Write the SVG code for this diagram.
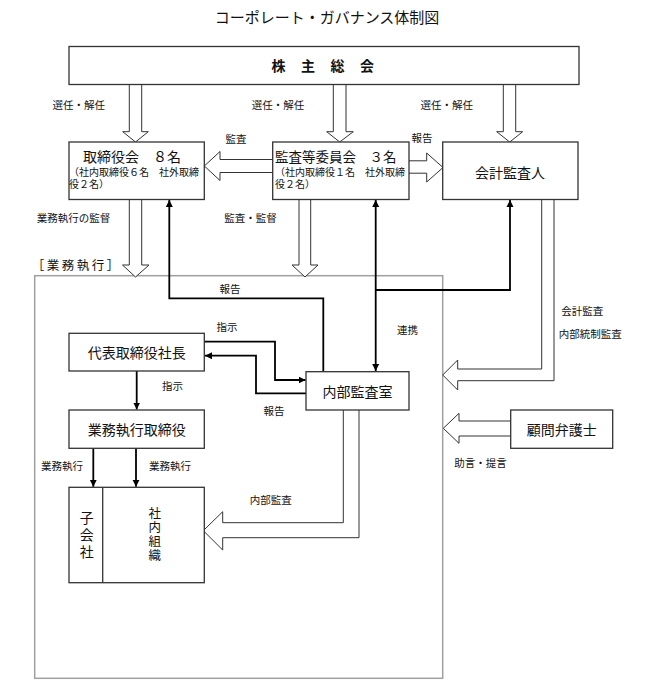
<svg xmlns="http://www.w3.org/2000/svg" width="647" height="698" viewBox="0 0 647 698">
<style>
text{font-family:"Liberation Sans","Noto Sans CJK JP",sans-serif;fill:#111;dominant-baseline:central}
.box{fill:#fff;stroke:#333;stroke-width:1.3}
.blk{fill:#fff;stroke:#333;stroke-width:1}
.ln{fill:none;stroke:#000;stroke-width:1.8}
.frame{fill:none;stroke:#a0a0a0;stroke-width:1.5}
.t14{font-size:14px}
.t10{font-size:10px}
.lb{font-size:10.5px;text-anchor:middle}
.mid{text-anchor:middle}
.vt{writing-mode:vertical-rl;text-orientation:upright}
</style>
<defs>
<marker id="ah" markerWidth="8" markerHeight="8" refX="7" refY="4" orient="auto" markerUnits="userSpaceOnUse">
<path d="M0,0.5 L7,4 L0,7.5 Z" fill="#000"/>
</marker>
<marker id="as" markerWidth="8" markerHeight="8" refX="1" refY="4" orient="auto" markerUnits="userSpaceOnUse">
<path d="M8,0.5 L1,4 L8,7.5 Z" fill="#000"/>
</marker>
</defs>
<rect width="647" height="698" fill="#fff"/>
<text x="327" y="17" class="mid" style="font-size:15px">コーポレート・ガバナンス体制図</text>

<g id="frame-execution">
<rect class="frame" x="34.7" y="275.7" width="408" height="402.6"/>
<text x="31.7" y="266" style="font-size:12.5px;letter-spacing:2.5px">［業務執行］</text>
</g>

<g id="connectors">
<!-- block arrows from shareholders -->
<path class="blk" d="M129.3,84.5 V131.7 H122.7 L135.5,142 L148.3,131.7 H141.7 V84.5"/>
<path class="blk" d="M333.3,84.5 V131.7 H326.7 L339.7,142 L353.3,131.7 H346 V84.5"/>
<path class="blk" d="M503.3,84.5 V131.7 H496.7 L509.7,142 L522.7,131.7 H515.7 V84.5"/>
<!-- committee -> board -->
<path class="blk" d="M272.7,159.5 H220 V151.5 L204.3,166 L220,180.5 V172.5 H272.7"/>
<!-- committee -> auditor -->
<path class="blk" d="M409,160.8 H426.7 V153 L443,167.5 L426.7,182 V173.2 H409"/>
<!-- board down -->
<path class="blk" d="M129.3,199.5 V265 H122.5 L135.5,277 L149,265 H141.7 V199.5"/>
<!-- committee down -->
<path class="blk" d="M299,199.5 V265 H292 L305,277 L318,265 H310.7 V199.5"/>
<!-- auditor -> execution -->
<path class="blk" d="M541.7,199.5 V369 H457.7 V360 L442.7,375 L457.7,390 V380.7 H554 V199.5"/>
<!-- lawyer -> execution -->
<path class="blk" d="M510.7,421 H459 V413.3 L443.3,428.3 L459,443.3 V436 H510.7"/>
<!-- internal audit -> org -->
<path class="blk" d="M343.3,410 V522.7 H222.7 V511.7 L203.3,530.7 L222.7,550 V537.7 H359 V410"/>
<!-- black lines -->
<path class="ln" d="M323.3,371.7 V298.3 H169.3 V200" marker-end="url(#ah)"/>
<path class="ln" d="M375.7,200 V371" marker-start="url(#as)" marker-end="url(#ah)"/>
<path class="ln" d="M375.7,290 H510 V200" marker-end="url(#ah)"/>
<path class="ln" d="M204.3,341.7 H275 V380 H305.5" marker-end="url(#ah)"/>
<path class="ln" d="M306,393.3 H256 V355.7 H205" marker-end="url(#ah)"/>
<path class="ln" d="M136.7,371 V409.5" marker-end="url(#ah)"/>
<path class="ln" d="M93.3,448.3 V486.8" marker-end="url(#ah)"/>
<path class="ln" d="M136,448.3 V486.8" marker-end="url(#ah)"/>
</g>

<g id="labels">
<text x="78.8" y="105" class="lb">選任・解任</text>
<text x="278" y="105" class="lb">選任・解任</text>
<text x="446.7" y="105" class="lb">選任・解任</text>
<text x="236" y="139" class="lb">監査</text>
<text x="422" y="138" class="lb">報告</text>
<text x="73.5" y="217.7" class="lb">業務執行の監督</text>
<text x="250.5" y="218" class="lb">監査・監督</text>
<text x="230" y="289" class="lb">報告</text>
<text x="227" y="327" class="lb">指示</text>
<text x="407.5" y="330" class="lb">連携</text>
<text x="172.5" y="386" class="lb">指示</text>
<text x="274" y="410.7" class="lb">報告</text>
<text x="582.3" y="311" class="lb">会計監査</text>
<text x="590.3" y="334.3" class="lb">内部統制監査</text>
<text x="480.5" y="463" class="lb">助言・提言</text>
<text x="62" y="466" class="lb">業務執行</text>
<text x="170" y="466" class="lb">業務執行</text>
<text x="270.8" y="500" class="lb">内部監査</text>
</g>

<g id="shareholders">
<rect class="box" x="69" y="46.5" width="510" height="38"/>
<text x="271.5" y="66" style="font-size:14px;font-weight:bold;letter-spacing:15.5px">株主総会</text>
</g>

<g id="board">
<rect class="box" x="69" y="142" width="135.3" height="57.5"/>
<text x="83" y="157" class="t14">取締役会　８名</text>
<text x="69" y="172" class="t10">（社内取締役６名　社外取締</text>
<text x="69" y="184" class="t10">役２名）</text>
</g>

<g id="audit-committee">
<rect class="box" x="272.7" y="142" width="136.3" height="57.5"/>
<text x="275" y="157" style="font-size:13.5px">監査等委員会　３名</text>
<text x="275" y="172" class="t10">（社内取締役１名　社外取締</text>
<text x="275" y="184" class="t10">役２名）</text>
</g>

<g id="accounting-auditor">
<rect class="box" x="442.7" y="142" width="135.3" height="57.5"/>
<text x="510" y="172.7" class="t14 mid">会計監査人</text>
</g>

<g id="president">
<rect class="box" x="69" y="333.3" width="135.3" height="37.7"/>
<text x="136.7" y="353" class="t14 mid">代表取締役社長</text>
</g>

<g id="internal-audit">
<rect class="box" x="306" y="371.7" width="103" height="38.3"/>
<text x="357.5" y="391.7" class="t14 mid">内部監査室</text>
</g>

<g id="executive-officers">
<rect class="box" x="69" y="410" width="135.3" height="38.3"/>
<text x="136.7" y="430" class="t14 mid">業務執行取締役</text>
</g>

<g id="legal-advisor">
<rect class="box" x="510.7" y="410" width="102" height="38.3"/>
<text x="561.7" y="430" class="t14 mid">顧問弁護士</text>
</g>

<g id="organization">
<rect class="box" x="69" y="487.3" width="135.3" height="95.4"/>
<line x1="102.7" y1="487.3" x2="102.7" y2="582.7" stroke="#333" stroke-width="1.3"/>
<text class="vt" x="85.7" y="511" style="font-size:14px;letter-spacing:3px">子会社</text>
<text class="vt" x="153.3" y="506.8" style="font-size:12.5px;letter-spacing:1.5px">社内組織</text>
</g>
</svg>
